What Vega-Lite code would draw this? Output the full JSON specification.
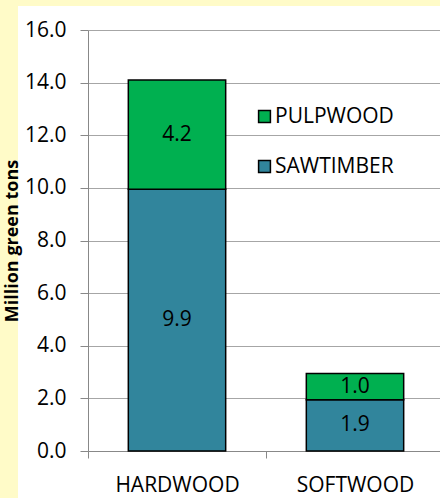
{
  "$schema": "https://vega.github.io/schema/vega-lite/v6.json",
  "width": 426,
  "height": 492,
  "padding": {"left": 18, "top": 6, "right": 0, "bottom": 0},
  "autosize": {"type": "none"},
  "background": "#FFFBC8",
  "config": {"view": {"fill": "white", "stroke": null}, "font": "Open Sans"},
  "data": {
    "values": [
      {"type": "HARDWOOD", "product": "SAWTIMBER", "tons": 9.95},
      {"type": "HARDWOOD", "product": "PULPWOOD", "tons": 4.15},
      {"type": "SOFTWOOD", "product": "SAWTIMBER", "tons": 1.95},
      {"type": "SOFTWOOD", "product": "PULPWOOD", "tons": 1.0}
    ]
  },
  "transform": [
    {"stack": "tons", "groupby": ["type"], "sort": [{"field": "product", "order": "descending"}], "as": ["y0", "y1"]},
    {"calculate": "(datum.y0 + datum.y1) / 2", "as": "ymid"}
  ],
  "encoding": {
    "x": {
      "field": "type",
      "type": "nominal",
      "sort": ["HARDWOOD", "SOFTWOOD"],
      "scale": {"range": [70, 426], "paddingInner": 0, "paddingOuter": 0},
      "axis": {
        "title": null,
        "offset": -47,
        "labelAngle": 0,
        "tickBand": "extent",
        "tickSize": 7,
        "domainColor": "#888888",
        "tickColor": "#888888",
        "labelFontSize": 21,
        "labelColor": "black",
        "labelPadding": 16,
        "grid": false
      }
    }
  },
  "layer": [
    {
      "mark": {"type": "bar", "width": {"band": 0.547}, "stroke": "black", "strokeWidth": 1.5},
      "encoding": {
        "y": {
          "field": "y0",
          "type": "quantitative",
          "scale": {"domain": [0, 16], "range": [445, 24], "nice": false},
          "axis": {
            "title": "Million green tons",
            "titleFontSize": 18,
            "titleFontWeight": "bold",
            "titleColor": "black",
            "titlePadding": 3,
            "offset": -70,
            "values": [0, 2, 4, 6, 8, 10, 12, 14, 16],
            "format": ".1f",
            "tickSize": 8,
            "tickColor": "#888888",
            "domainColor": "#888888",
            "gridColor": "#a6a6a6",
            "labelFontSize": 21,
            "labelColor": "black",
            "labelPadding": 14
          }
        },
        "y2": {"field": "y1"},
        "color": {
          "field": "product",
          "type": "nominal",
          "scale": {"domain": ["PULPWOOD", "SAWTIMBER"], "range": ["#00B050", "#31859C"]},
          "legend": {
            "title": null,
            "orient": "none",
            "legendX": 236,
            "legendY": 100,
            "symbolType": "square",
            "symbolSize": 140,
            "symbolStrokeColor": "black",
            "symbolStrokeWidth": 1.5,
            "labelFontSize": 21,
            "labelColor": "black",
            "rowPadding": 28,
            "labelOffset": 0,
            "padding": 0
          }
        }
      }
    },
    {
      "mark": {"type": "text", "fontSize": 21, "color": "black"},
      "encoding": {
        "y": {"field": "ymid", "type": "quantitative"},
        "text": {"field": "tons", "type": "quantitative", "format": ".1f"}
      }
    }
  ]
}
